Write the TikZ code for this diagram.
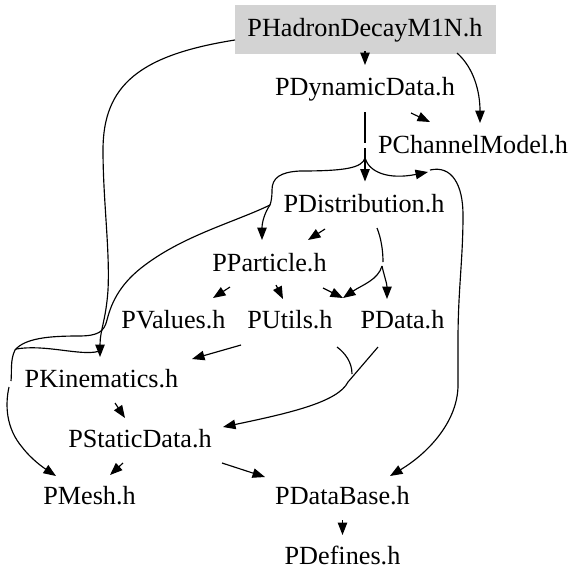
\documentclass[tikz,border=0pt]{standalone}
\usepackage{fontspec}
\setmainfont{Liberation Serif}
\usetikzlibrary{arrows.meta,calc}
\definecolor{rootgray}{RGB}{211,211,211}
\begin{document}
\begin{tikzpicture}[x=1pt,y=-1pt,
  lbl/.style={inner sep=0pt, text height=19pt, text depth=4pt, font=\fontsize{26.2}{30}\selectfont},
  rootbox/.style={lbl, fill=rootgray, draw=rootgray, minimum width=260pt, minimum height=48pt},
  edge/.style={line width=1.15pt, draw=black},
  arr/.style={edge, -{Triangle[length=12.5pt,width=9.5pt]}}]
\useasboundingbox (0,0) rectangle (588,587);

% nodes
\node[rootbox] (phad) at (365,29) {PHadronDecayM1N.h};
\node[lbl] (pdyn)  at (365,87.5)   {PDynamicData.h};
\node[lbl] (pchan) at (473,145.5)  {PChannelModel.h};
\node[lbl] (pdist) at (364,204.5)  {PDistribution.h};
\node[lbl] (ppart) at (269.5,264)  {PParticle.h};
\node[lbl] (pval)  at (173.5,321)  {PValues.h};
\node[lbl] (putil) at (290,321)    {PUtils.h};
\node[lbl] (pdata) at (402.5,321)  {PData.h};
\node[lbl] (pkin)  at (101.5,379.5){PKinematics.h};
\node[lbl] (pstat) at (140,439.5)  {PStaticData.h};
\node[lbl] (pmesh) at (89.5,497)   {PMesh.h};
\node[lbl] (pdb)   at (342.5,496.5){PDataBase.h};
\node[lbl] (pdef)  at (342.5,556.5){PDefines.h};

% junction points of merged edges
\coordinate (j1) at (365,158);
\coordinate (j2) at (270,205);
\coordinate (j3) at (382,266);
\coordinate (j4) at (348,382);
\coordinate (kl1) at (11,381);
\coordinate (kl2) at (9,387);

% edges
\draw[arr] ($(phad.center)+(0,22)$) -- ($(pdyn.center)+(0,-22.5)$);
\draw[arr] ($(phad.center)+(92,24)$) .. controls (474,68) and (480,92) .. ($(pchan.center)+(7,-22.5)$);
\draw[arr] ($(pdyn.center)+(46,25.5)$) -- ($(pchan.center)+(-43,-23.5)$);
\draw[arr] ($(phad.center)+(-130,11)$) .. controls (140,55) and (103,85) .. (103,150)
   .. controls (103,200) and (110,250) .. (108,290)
   .. controls (106,320) and (100,330) .. ($(pkin.center)+(-1.5,-22.5)$);

\draw[edge] ($(pdyn.center)+(0,24.5)$) -- ++(0,31);
\draw[edge] (j1) -- ++(0,-10);
\draw[arr] (j1) -- ($(pdist.center)+(1,-23)$);
\draw[edge] (j1) .. controls (362,168) and (345,171) .. (300,171)
   .. controls (280,172) and (272,178) .. (272,190)
   .. controls (272,198) and (271,202) .. (j2);
\draw[arr] (j1) .. controls (369,172) and (388,180) .. ($(pchan.center)+(-45,26.5)$);

\draw[arr] ($(pchan.center)+(-43,24.5)$) .. controls (452,165) and (463,185) .. (463,215)
   .. controls (463,260) and (458,290) .. (458,340) -- (458,385)
   .. controls (458,420) and (430,452) .. ($(pdb.center)+(47.5,-20.5)$);

\draw[arr] ($(pdist.center)+(-39,24.5)$) -- ($(ppart.center)+(38.5,-24)$);
\draw[arr] (j2) .. controls (265,212) and (262,222) .. ($(ppart.center)+(-7.5,-24)$);

\draw[edge] (j2) .. controls (235,222) and (185,235) .. (145,265)
   .. controls (122,282) and (112,300) .. (107,320)
   .. controls (104,332) and (98,336) .. (78,336)
   .. controls (50,336) and (25,338) .. (15,350)
   .. controls (10,360) and (12,372) .. (kl1);
\draw[edge] ($(pkin.center)+(-3.5,-28)$) .. controls (80,356) and (45,344) .. (16,349);
\draw[arr] (kl2) .. controls (5,405) and (6,428) .. (22,447)
   .. controls (32,460) and (44,468) .. ($(pmesh.center)+(-33.5,-21)$);

\draw[edge] ($(pdist.center)+(13,23.5)$) .. controls (381,238) and (383,250) .. (383,262);
\draw[arr] (j3) .. controls (384,275) and (387,284) .. ($(pdata.center)+(-15.5,-22)$);
\draw[arr] (j3) .. controls (378,280) and (362,285) .. ($(putil.center)+(53,-23)$);

\draw[arr] ($(ppart.center)+(-39.5,23)$) -- ($(pval.center)+(39.5,-23)$);
\draw[arr] ($(ppart.center)+(6.5,21)$) -- ($(putil.center)+(-7,-22)$);
\draw[arr] ($(ppart.center)+(53.5,24)$) -- ($(putil.center)+(53,-23)$);

\draw[arr] ($(putil.center)+(-49,24)$) -- ($(pkin.center)+(90.5,-20.5)$);
\draw[edge] ($(putil.center)+(47,26)$) .. controls (345,353) and (352,362) .. (352,374);
\draw[edge] ($(pdata.center)+(-24.5,26)$) -- (j4);
\draw[arr] (j4) .. controls (338,402) and (290,413) .. ($(pstat.center)+(83,-12.5)$);

\draw[arr] ($(pkin.center)+(13.5,23.5)$) -- ($(pstat.center)+(-15,-21.5)$);
\draw[arr] ($(pstat.center)+(-17,23.5)$) -- ($(pmesh.center)+(20.5,-22)$);
\draw[arr] ($(pstat.center)+(82,23.5)$) -- ($(pdb.center)+(-77.5,-19.5)$);
\draw[arr] ($(pdb.center)+(0,23.5)$) -- ($(pdef.center)+(0,-21.5)$);
\end{tikzpicture}
\end{document}
